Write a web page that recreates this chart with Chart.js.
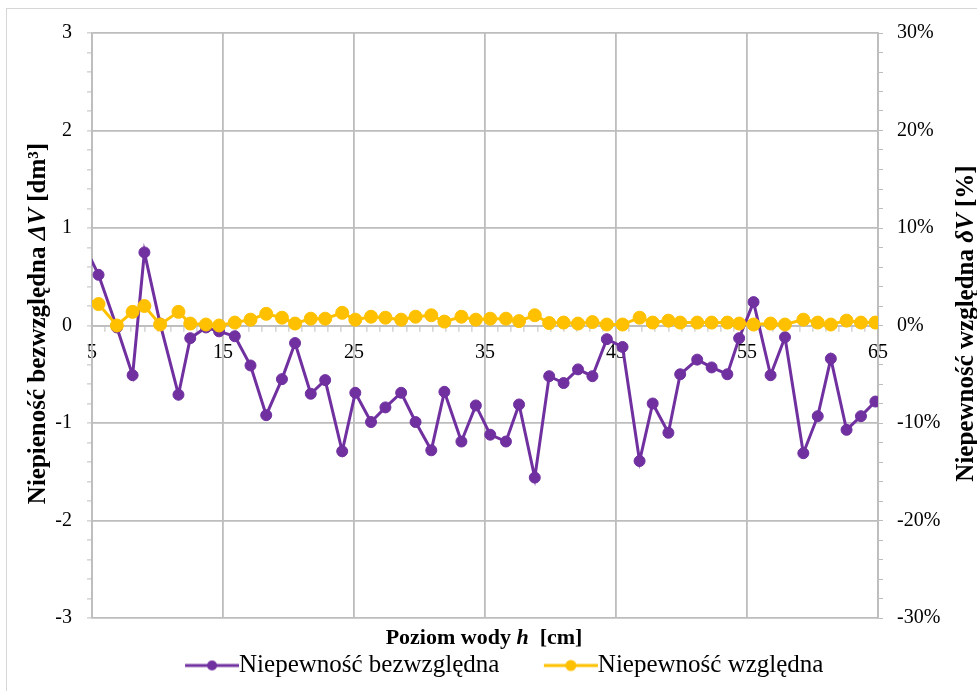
<!DOCTYPE html>
<html>
<head>
<meta charset="utf-8">
<script src="https://cdn.jsdelivr.net/npm/chart.js@4/dist/chart.umd.min.js"></script>
<style>
  html, body { margin: 0; padding: 0; background: #fff; }
  #wrap { position: relative; width: 977px; height: 691px; overflow: hidden; }
  #frame { position: absolute; left: 6px; top: 8px; right: -2px; bottom: -2px;
           border-left: 1px solid #d6d6d6; border-top: 1px solid #d6d6d6; pointer-events: none; }
  canvas { display: block; }
</style>
</head>
<body>
<div id="wrap">
  <canvas id="chart" width="977" height="691"></canvas>
  <div id="frame"></div>
</div>
<script>
// Water level h [cm] of each measurement
const waterLevel = [4.3, 5.5, 6.9, 8.1, 9.0, 10.2, 11.6, 12.5, 13.7, 14.7,
                    15.9, 17.1, 18.3, 19.5, 20.5, 21.7, 22.8, 24.1, 25.1, 26.3,
                    27.4, 28.6, 29.7, 30.9, 31.9, 33.2, 34.3, 35.4, 36.6, 37.6,
                    38.8, 39.9, 41.0, 42.1, 43.2, 44.3, 45.5, 46.8, 47.8, 49.0,
                    49.9, 51.2, 52.3, 53.5, 54.4, 55.5, 56.8, 57.9, 59.3, 60.4,
                    61.4, 62.6, 63.7, 64.8];

// Absolute uncertainty ΔV [dm³]
const absUncertainty = [0.85, 0.52, -0.02, -0.51, 0.75, 0.02, -0.71, -0.13, -0.02, -0.06,
                        -0.11, -0.41, -0.92, -0.55, -0.18, -0.70, -0.56, -1.29, -0.69, -0.99,
                        -0.84, -0.69, -0.99, -1.28, -0.68, -1.19, -0.82, -1.12, -1.19, -0.81,
                        -1.56, -0.52, -0.59, -0.45, -0.52, -0.14, -0.22, -1.39, -0.80, -1.10,
                        -0.50, -0.35, -0.43, -0.50, -0.13, 0.24, -0.51, -0.12, -1.31, -0.93,
                        -0.34, -1.07, -0.93, -0.78];

// Relative uncertainty δV [%]
const relUncertainty = [2.8, 2.2, 0.0, 1.4, 2.0, 0.1, 1.4, 0.2, 0.1, 0.0,
                        0.3, 0.6, 1.2, 0.8, 0.2, 0.7, 0.7, 1.3, 0.6, 0.9,
                        0.8, 0.6, 0.9, 1.05, 0.4, 0.9, 0.6, 0.7, 0.7, 0.45,
                        1.05, 0.25, 0.3, 0.2, 0.35, 0.1, 0.1, 0.8, 0.3, 0.5,
                        0.3, 0.3, 0.3, 0.3, 0.2, 0.1, 0.2, 0.1, 0.6, 0.3,
                        0.1, 0.5, 0.3, 0.3];

// Labelled ticks of the three axes
const xTickLabels = [5, 15, 25, 35, 45, 55, 65];
const leftTickLabels = [-3, -2, -1, 0, 1, 2, 3];
const rightTickLabels = [-30, -20, -10, 0, 10, 20, 30];

const seriesNames = ['Niepewność bezwzględna', 'Niepewność względna'];

const PURPLE = '#7030A0';
const YELLOW = '#FFC000';
const GRID = '#bdbdbd';
const SERIF = "'Liberation Serif', 'Times New Roman', serif";

Chart.defaults.font.family = SERIF;
Chart.defaults.color = '#000';

const absPoints = waterLevel.map((h, i) => ({ x: h, y: absUncertainty[i] }));
const relPoints = waterLevel.map((h, i) => ({ x: h, y: relUncertainty[i] }));

// line-with-marker legend symbol; the empty left margin spaces the two entries apart
function legendSymbol(color, r) {
  const margin = 22, len = 54;
  const c = document.createElement('canvas');
  c.width = margin + len; c.height = 16;
  const g = c.getContext('2d');
  g.strokeStyle = color; g.lineWidth = 3;
  g.beginPath(); g.moveTo(margin, 8); g.lineTo(margin + len, 8); g.stroke();
  g.fillStyle = color;
  g.beginPath(); g.arc(margin + len / 2, 8, r, 0, Math.PI * 2); g.fill();
  return c;
}
const symbols = [legendSymbol(PURPLE, 5), legendSymbol(YELLOW, 5.5)];

// axis titles with italic symbols
function drawRuns(ctx, runs, x, y, angle, size) {
  ctx.save();
  ctx.translate(x, y);
  ctx.rotate(angle);
  ctx.textAlign = 'left';
  ctx.textBaseline = 'alphabetic';
  ctx.fillStyle = '#000';
  const fontOf = r => (r.italic ? 'italic ' : '') + 'bold ' + size + 'px ' + SERIF;
  let total = 0;
  runs.forEach(r => { ctx.font = fontOf(r); total += ctx.measureText(r.text).width; });
  let cx = -total / 2;
  runs.forEach(r => {
    ctx.font = fontOf(r);
    ctx.fillText(r.text, cx, 0);
    cx += ctx.measureText(r.text).width;
  });
  ctx.restore();
}

const axisTitles = {
  id: 'axisTitles',
  afterDraw(chart) {
    const ctx = chart.ctx;
    const a = chart.chartArea;
    const midY = (a.top + a.bottom) / 2 - 2;
    drawRuns(ctx, [{ text: 'Niepieność bezwzględna ' }, { text: 'ΔV', italic: true }, { text: ' [dm³]' }],
             a.left - 47, midY, -Math.PI / 2, 25);
    drawRuns(ctx, [{ text: 'Niepewność względna ' }, { text: 'δV', italic: true }, { text: ' [%]' }],
             a.right + 95, midY, -Math.PI / 2, 25);
    drawRuns(ctx, [{ text: 'Poziom wody ' }, { text: 'h', italic: true }, { text: '  [cm]' }],
             (a.left + a.right) / 2 - 1, a.bottom + 26, 0, 22);
  }
};

const isMajor = (list, v) => list.some(t => Math.abs(t - v) < 1e-9);

new Chart(document.getElementById('chart'), {
  type: 'line',
  data: {
    datasets: [
      {
        label: seriesNames[0],
        data: absPoints,
        yAxisID: 'y',
        order: 1,
        borderColor: PURPLE,
        backgroundColor: PURPLE,
        borderWidth: 3,
        pointRadius: 5.5,
        pointBackgroundColor: PURPLE,
        pointBorderColor: PURPLE,
        pointBorderWidth: 1,
        tension: 0
      },
      {
        label: seriesNames[1],
        data: relPoints,
        yAxisID: 'y1',
        order: 0,
        borderColor: YELLOW,
        backgroundColor: YELLOW,
        borderWidth: 3,
        pointRadius: 6.5,
        pointBackgroundColor: YELLOW,
        pointBorderColor: YELLOW,
        pointBorderWidth: 1,
        tension: 0
      }
    ]
  },
  options: {
    responsive: false,
    animation: false,
    devicePixelRatio: 1,
    events: [],
    layout: { padding: { left: 22, right: 0, top: 33, bottom: 3 } },
    scales: {
      x: {
        type: 'linear',
        position: { y: 0 },
        min: xTickLabels[0],
        max: xTickLabels[xTickLabels.length - 1],
        afterBuildTicks(scale) {
          const t = [];
          for (let v = xTickLabels[0]; v <= xTickLabels[xTickLabels.length - 1]; v++) t.push({ value: v });
          scale.ticks = t;
        },
        ticks: {
          autoSkip: false,
          maxRotation: 0,
          padding: 10,
          color: '#000',
          font: { family: SERIF, size: 20 },
          callback: v => isMajor(xTickLabels, v) ? String(v) : ''
        },
        grid: {
          color: c => (c.tick && isMajor(xTickLabels, c.tick.value)) ? GRID : 'rgba(0,0,0,0)',
          lineWidth: 1.8,
          tickLength: 5,
          tickColor: GRID,
          tickWidth: 1
        },
        border: { color: GRID, width: 1.8 }
      },
      y: {
        type: 'linear',
        position: 'left',
        min: leftTickLabels[0],
        max: leftTickLabels[leftTickLabels.length - 1],
        afterBuildTicks(scale) {
          const t = [];
          for (let k = leftTickLabels[0] * 5; k <= leftTickLabels[leftTickLabels.length - 1] * 5; k++) t.push({ value: Math.round(k * 2) / 10 });
          scale.ticks = t;
        },
        afterFit(scale) { scale.width = 70; },
        ticks: {
          autoSkip: false,
          padding: 15,
          color: '#000',
          font: { family: SERIF, size: 20 },
          callback: v => isMajor(leftTickLabels, v) ? String(v) : ''
        },
        grid: {
          color: c => (c.tick && isMajor(leftTickLabels, c.tick.value)) ? GRID : 'rgba(0,0,0,0)',
          lineWidth: 1.8,
          tickLength: 5,
          tickColor: GRID,
          tickWidth: 1
        },
        border: { color: GRID, width: 1.8 }
      },
      y1: {
        type: 'linear',
        position: 'right',
        min: rightTickLabels[0],
        max: rightTickLabels[rightTickLabels.length - 1],
        afterBuildTicks(scale) {
          const t = [];
          for (let v = rightTickLabels[0]; v <= rightTickLabels[rightTickLabels.length - 1]; v += 2) t.push({ value: v });
          scale.ticks = t;
        },
        afterFit(scale) { scale.width = 99; },
        ticks: {
          autoSkip: false,
          padding: 14,
          color: '#000',
          font: { family: SERIF, size: 20 },
          callback: v => isMajor(rightTickLabels, v) ? v + '%' : ''
        },
        grid: {
          drawOnChartArea: false,
          tickLength: 5,
          tickColor: GRID,
          tickWidth: 1
        },
        border: { color: GRID, width: 1.8 }
      }
    },
    plugins: {
      tooltip: { enabled: false },
      legend: {
        display: true,
        position: 'bottom',
        labels: {
          usePointStyle: true,
          pointStyleWidth: 51,
          padding: 35,
          color: '#000',
          font: { family: SERIF, size: 25, style: 'normal', weight: 'normal' },
          generateLabels(chart) {
            return chart.data.datasets.map((ds, i) => ({
              text: ds.label,
              fillStyle: ds.borderColor,
              strokeStyle: ds.borderColor,
              lineWidth: 0,
              pointStyle: symbols[i],
              fontColor: '#000',
              hidden: false,
              datasetIndex: i
            }));
          },
          sort: (a, b) => a.datasetIndex - b.datasetIndex
        }
      }
    }
  },
  plugins: [axisTitles]
});
</script>
</body>
</html>
